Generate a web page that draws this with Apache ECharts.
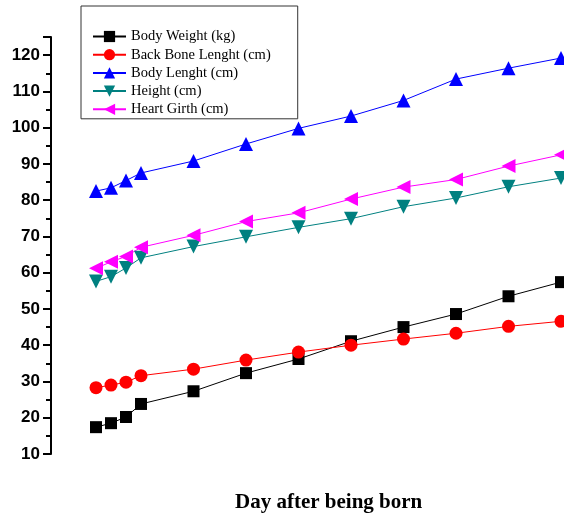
<!DOCTYPE html>
<html><head><meta charset="utf-8">
<script src="https://cdn.jsdelivr.net/npm/echarts@6/dist/echarts.min.js"></script>
<style>html,body{margin:0;padding:0;background:#fff}#c{width:564px;height:513px}</style>
</head><body><div id="c"></div>
<script>
// x positions (days after birth, approximate relative spacing)
const days = [0, 2, 4, 6, 13, 20, 27, 34, 41, 48, 55, 62];
const bodyWeight = [17.4, 18.5, 20.2, 23.8, 27.3, 32.3, 36.2, 41.1, 45.0, 48.6, 53.5, 57.4];
const backBone = [28.3, 29.0, 29.8, 31.6, 33.4, 35.9, 38.1, 40.0, 41.7, 43.3, 45.2, 46.6];
const bodyLength = [82.5, 83.4, 85.4, 87.5, 90.8, 95.5, 99.8, 103.2, 107.5, 113.4, 116.4, 119.2];
const height = [57.6, 58.9, 61.3, 64.1, 67.2, 69.9, 72.5, 74.9, 78.2, 80.6, 83.7, 86.1];
const heartGirth = [61.2, 63.0, 64.5, 67.0, 70.3, 74.1, 76.5, 80.3, 83.6, 85.7, 89.4, 92.5];
const seriesNames = ['Body Weight (kg)', 'Back Bone Lenght (cm)', 'Body Lenght (cm)', 'Height (cm)', 'Heart Girth (cm)'];
const xTitle = 'Day after being born';

const pair = arr => days.map((d, i) => [d, arr[i]]);
function mk(name, data, color, symbol, size, rot) {
  return {
    name, type: 'line', data: pair(data), symbol, symbolSize: size, symbolRotate: rot || 0,
    lineStyle: { color, width: 1 }, itemStyle: { color }, clip: false, animation: false
  };
}
const chart = echarts.init(document.getElementById('c'));
chart.setOption({
  animation: false,
  grid: { left: 51, right: 0, top: 37, bottom: 59 },
  title: {
    text: xTitle, left: 230, top: 487,
    textStyle: { fontFamily: 'Liberation Serif', fontWeight: 'bold', fontSize: 21, color: '#000' }
  },
  legend: {
    orient: 'vertical', left: 81, top: 6,
    padding: [23, 27, 2, 11],
    itemWidth: 33, itemHeight: 14, itemGap: 3.2,
    borderColor: '#333', borderWidth: 1, backgroundColor: '#fff',
    textStyle: { fontFamily: 'Liberation Serif', fontSize: 14.5, color: '#000' },
    data: seriesNames
  },
  xAxis: { type: 'value', min: -6, max: 62.4, show: false },
  yAxis: {
    type: 'value', min: 10, max: 125, interval: 10,
    axisLine: { show: true, onZero: false, lineStyle: { color: '#000', width: 2 } },
    axisTick: { show: true, inside: false, length: 8, lineStyle: { color: '#000', width: 2 } },
    minorTick: { show: true, splitNumber: 2, length: 5, lineStyle: { color: '#000', width: 2 } },
    splitLine: { show: false },
    axisLabel: {
      showMaxLabel: false, margin: 11,
      fontFamily: 'Liberation Sans', fontWeight: 'bold', fontSize: 17, color: '#000'
    }
  },
  series: [
    mk(seriesNames[0], bodyWeight, '#000000', 'rect', 12),
    mk(seriesNames[1], backBone, '#ff0000', 'circle', 13),
    mk(seriesNames[2], bodyLength, '#0000ff', 'triangle', 14),
    mk(seriesNames[3], height, '#008080', 'triangle', 14, 180),
    mk(seriesNames[4], heartGirth, '#ff00ff', 'triangle', 14, 90)
  ]
});
</script></body></html>
